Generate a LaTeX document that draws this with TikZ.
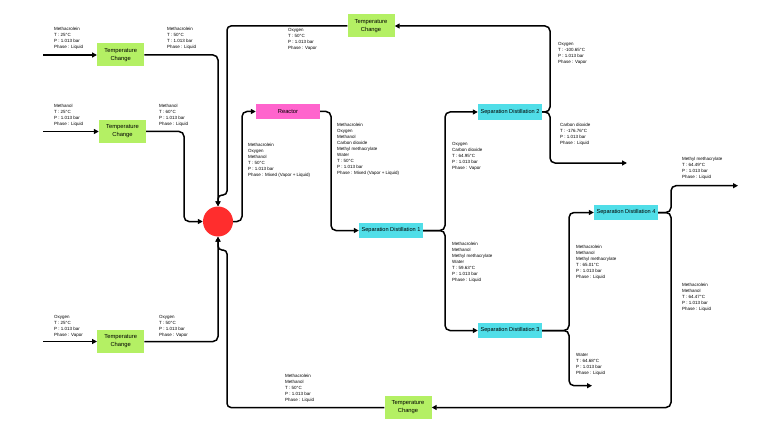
\documentclass[tikz,border=0pt]{standalone}
\usepackage{fontspec}
\setmainfont{Liberation Sans}
\usetikzlibrary{arrows.meta}
\definecolor{tcgreen}{RGB}{180,240,100}
\definecolor{reactpink}{RGB}{255,100,205}
\definecolor{sdcyan}{RGB}{80,222,232}
\definecolor{mixred}{RGB}{255,45,45}
\begin{document}
\begin{tikzpicture}[x=1pt,y=-1pt,
  conn/.style={line width=1.5pt, rounded corners=5pt, -{Triangle[length=5pt,width=5pt]}},
  lbl/.style={anchor=north west, inner sep=0pt, align=left, font=\fontsize{4.5}{6}\selectfont},
  tcbox/.style={fill=tcgreen, minimum width=47pt, minimum height=23pt, inner sep=0pt, align=center, font=\fontsize{5.8}{8}\selectfont},
  sdbox/.style={fill=sdcyan, minimum width=64pt, minimum height=15pt, inner sep=0pt, font=\fontsize{5.6}{7}\selectfont},
  rbox/.style={fill=reactpink, minimum width=64pt, minimum height=15pt, inner sep=0pt, font=\fontsize{5.8}{7}\selectfont}]
\fill[white] (0,0) rectangle (768,433);
\useasboundingbox (0,0) rectangle (768,433);

% nodes
\node[tcbox] (tc1) at (120.7,55) {Temperature\\Change};
\node[tcbox] (tc2) at (122.5,131.5) {Temperature\\Change};
\node[tcbox] (tc3) at (120.7,341.5) {Temperature\\Change};
\node[tcbox] (tctop) at (371,26) {Temperature\\Change};
\node[tcbox] (tcbot) at (408,407.5) {Temperature\\Change};
\node[rbox] (reactor) at (288,111.5) {Reactor};
\node[sdbox] (sd1) at (391,230.5) {Separation Distillation 1};
\node[sdbox, minimum height=16pt] (sd2) at (510,112) {Separation Distillation 2};
\node[sdbox] (sd3) at (510,330.5) {Separation Distillation 3};
\node[sdbox] (sd4) at (626,212.5) {Separation Distillation 4};
\node[circle, fill=mixred, minimum size=30pt, inner sep=0pt] (mix) at (218,221.5) {};

% free ends and bends
\coordinate (in1) at (43,55);
\coordinate (in2) at (43,131.5);
\coordinate (in3) at (43,341.5);
\coordinate (co2) at (627,163);
\coordinate (water) at (592,385.7);
\coordinate (mma) at (738,185.7);
\coordinate (j2) at (184,221.5);
\coordinate (jt1) at (227,195);
\coordinate (jt2) at (218,195);
\coordinate (jb1) at (227,250);
\coordinate (jb2) at (218,250);
\coordinate (jr) at (242,170);
\coordinate (j8) at (331,170);
\coordinate (j9) at (445,170);
\coordinate (j9b) at (445,280);
\coordinate (j10) at (550,70);
\coordinate (j10b) at (550,140);
\coordinate (j11) at (569,270);
\coordinate (j11b) at (569,360);
\coordinate (j12) at (671,200);
\coordinate (j12b) at (671,300);

% connectors
\draw[conn] (in1) -- (tc1.west);
\draw[conn] (in2) -- (tc2.west);
\draw[conn] (in3) -- (tc3.west);
\draw[conn] (tc1.east) -| (mix.north);
\draw[conn] (tc2.east) -| (j2) -- (mix.west);
\draw[conn] (tc3.east) -| (mix.south);
\draw[conn, rounded corners=4pt] (tctop.west) -| (jt1) -- (jt2) -- (mix.north);
\draw[conn, rounded corners=4pt] (tcbot.west) -| (jb1) -- (jb2) -- (mix.south);
\draw[conn] (mix.east) -| (jr) |- (reactor.west);
\draw[conn] (reactor.east) -| (j8) |- (sd1.west);
\draw[conn] (sd1.east) -| (j9) |- (sd2.west);
\draw[conn] (sd1.east) -| (j9b) |- (sd3.west);
\draw[conn] (sd2.east) -| (j10) |- (tctop.east);
\draw[conn] (sd2.east) -| (j10b) |- (co2);
\draw[conn] (sd3.east) -| (j11) |- (sd4.west);
\draw[conn] (sd3.east) -| (j11b) |- (water);
\draw[conn] (sd4.east) -| (j12) |- (mma);
\draw[conn] (sd4.east) -| (j12b) |- (tcbot.east);

% stream labels
\node[lbl] (l1) at (54,27.5) {Methacrolein\\T : 25°C\\P : 1.013 bar\\Phase : Liquid};
\node[lbl] (l2) at (167,27.5) {Methacrolein\\T : 50°C\\T : 1.013 bar\\Phase : Liquid};
\node[lbl] (l3) at (54,104.5) {Methanol\\T : 25°C\\P : 1.013 bar\\Phase : Liquid};
\node[lbl] (l4) at (159,104.5) {Methanol\\T : 60°C\\P : 1.013 bar\\Phase : Liquid};
\node[lbl] (l5) at (54,315.5) {Oxygen\\T : 25°C\\P : 1.013 bar\\Phase : Vapor};
\node[lbl] (l6) at (159,315.5) {Oxygen\\T : 50°C\\P : 1.013 bar\\Phase : Vapor};
\node[lbl] (l7) at (288,28.5) {Oxygen\\T : 50°C\\P : 1.013 bar\\Phase : Vapor};
\node[lbl] (l8) at (248,143) {Methacrolein\\Oxygen\\Methanol\\T : 50°C\\P : 1.013 bar\\Phase : Mixed (Vapor + Liquid)};
\node[lbl] (l9) at (337,123) {Methacrolein\\Oxygen\\Methanol\\Carbon dioxide\\Methyl methacrylate\\Water\\T : 50°C\\P : 1.013 bar\\Phase : Mixed (Vapor + Liquid)};
\node[lbl] (l10) at (452,142.5) {Oxygen\\Carbon dioxide\\T : 64.95°C\\P : 1.013 bar\\Phase : Vapor};
\node[lbl] (l11) at (558,42.5) {Oxygen\\T : -100.65°C\\P : 1.013 bar\\Phase : Vapor};
\node[lbl] (l12) at (560,123.5) {Carbon dioxide\\T : -176.76°C\\P : 1.013 bar\\Phase : Liquid};
\node[lbl] (l13) at (682,157) {Methyl methacrylate\\T : 64.49°C\\P : 1.013 bar\\Phase : Liquid};
\node[lbl] (l14) at (576,245.5) {Methacrolein\\Methanol\\Methyl methacrylate\\T : 65.01°C\\P : 1.013 bar\\Phase : Liquid};
\node[lbl] (l15) at (682,283.5) {Methacrolein\\Methanol\\T : 64.47°C\\P : 1.013 bar\\Phase : Liquid};
\node[lbl] (l16) at (452,242.5) {Methacrolein\\Methanol\\Methyl methacrylate\\Water\\T : 59.63°C\\P : 1.013 bar\\Phase : Liquid};
\node[lbl] (l17) at (576,353) {Water\\T : 64.68°C\\P : 1.013 bar\\Phase : Liquid};
\node[lbl] (l18) at (285,374.5) {Methacrolein\\Methanol\\T : 50°C\\P : 1.013 bar\\Phase : Liquid};
\end{tikzpicture}
\end{document}
